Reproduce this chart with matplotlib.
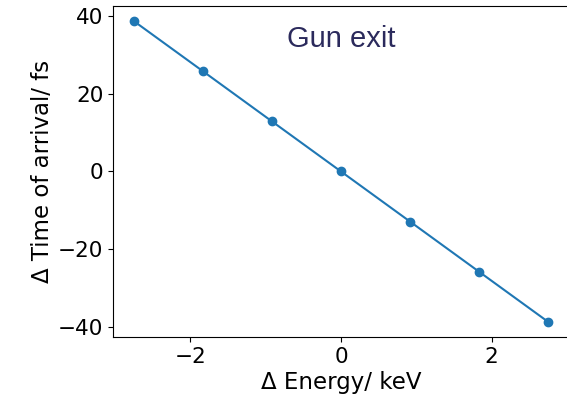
import matplotlib
matplotlib.use("Agg")
import matplotlib.pyplot as plt

# Energy offset (keV) versus change in time of arrival (fs)
energy_kev = [-2.75, -1.833, -0.917, 0.0, 0.917, 1.833, 2.75]
time_fs = [38.7, 25.8, 12.9, 0.0, -12.9, -25.8, -38.7]
x_ticks = [-2, 0, 2]
y_ticks = [-40, -20, 0, 20, 40]

fig = plt.figure(figsize=(5.67, 3.98), dpi=100)
ax = fig.add_axes([0.1993, 0.1533, 0.8042, 0.8317])

ax.plot(energy_kev, time_fs, "o-", color="#1f77b4", lw=1.5, ms=6)

ax.set_xticks(x_ticks)
ax.set_yticks(y_ticks)
ax.tick_params(labelsize=15.5)
ax.set_xlabel("Δ Energy/ keV", fontsize=16.5, labelpad=3)
ax.set_ylabel("Δ Time of arrival/ fs", fontsize=16.5, labelpad=3)

ax.text(0.5, 0.9, "Gun exit", transform=ax.transAxes, ha="center", va="center",
        fontsize=21, color="#2b2a5c", family="Liberation Sans")

fig.savefig("out.png", dpi=100)
